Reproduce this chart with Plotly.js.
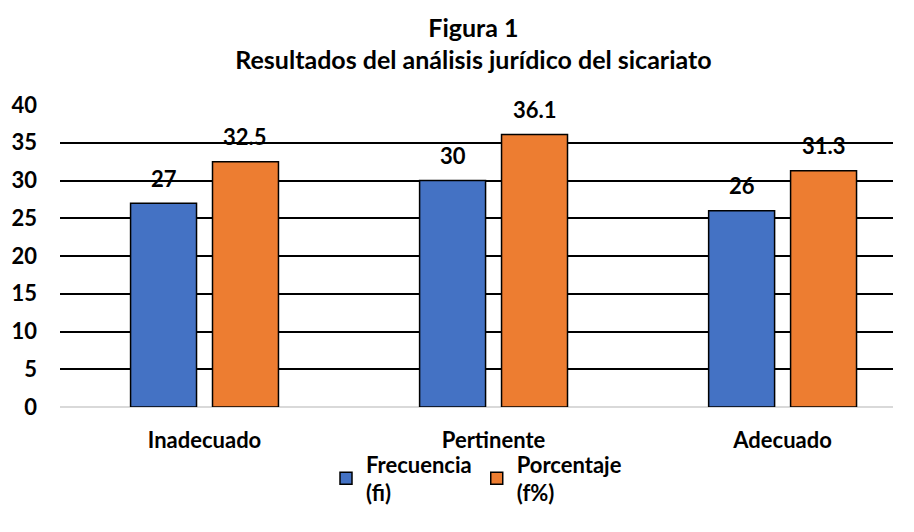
<!DOCTYPE html>
<html>
<head>
<meta charset="utf-8">
<script src="https://cdn.plot.ly/plotly-3.0.1.min.js"></script>
<style>html,body{margin:0;padding:0;background:#fff;}#chart{width:914px;height:532px;}</style>
</head>
<body>
<div id="chart"></div>
<script>
const categories = ["Inadecuado", "Pertinente", "Adecuado"];
const frecuencia = [27, 30, 26];
const porcentaje = [32.5, 36.1, 31.3];
const seriesNames = ["Frecuencia<br>(fi)", "Porcentaje<br>(f%)"];
const yTicks = [0, 5, 10, 15, 20, 25, 30, 35, 40];

const FONT = "Lato, Carlito, Calibri, sans-serif";
const BARGAP = 0.433, GROUPGAP = 0.195;
const slot = (1 - BARGAP) / 2;

const traces = [
  {
    type: "bar", name: seriesNames[0], x: categories, y: frecuencia,
    marker: {color: "#4472C4", line: {color: "#000", width: 1.5}}
  },
  {
    type: "bar", name: seriesNames[1], x: categories, y: porcentaje,
    marker: {color: "#ED7D31", line: {color: "#000", width: 1.5}}
  }
];

const labelFont = {family: FONT, size: 22, color: "#000", weight: "bold"};
const annotations = [];
[frecuencia, porcentaje].forEach((series, s) => {
  series.forEach((v, i) => {
    annotations.push({
      x: i + (s === 0 ? -slot / 2 : slot / 2), y: v, xref: "x", yref: "y",
      text: String(v), showarrow: false, yanchor: "middle", yshift: 25,
      font: labelFont
    });
  });
});

const layout = {
  width: 914, height: 532,
  paper_bgcolor: "#fff", plot_bgcolor: "#fff",
  font: {family: FONT, size: 22, color: "#000", weight: "bold"},
  title: {
    text: "Figura 1<br>Resultados del análisis jurídico del sicariato",
    font: {family: FONT, size: 25, color: "#000", weight: "bold"},
    x: 0.518, xref: "container", xanchor: "center",
    y: 0.931, yref: "container", yanchor: "middle"
  },
  margin: {l: 60, r: 21, t: 105, b: 125},
  barmode: "group", bargap: BARGAP, bargroupgap: GROUPGAP,
  xaxis: {
    range: [-0.5, 2.382],
    showline: false, ticks: "", showgrid: false, ticklabelstandoff: 18,
    tickfont: {family: FONT, size: 22, color: "#000", weight: "bold"}
  },
  yaxis: {
    range: [0, 40], tickvals: yTicks, ticktext: yTicks.map(String),
    showgrid: true, gridcolor: "#000", gridwidth: 2,
    zeroline: true, zerolinecolor: "#d9d9d9", zerolinewidth: 2,
    showline: false, ticks: "", ticklabelstandoff: 22,
    tickfont: {family: FONT, size: 22, color: "#000", weight: "bold"}
  },
  annotations: annotations,
  showlegend: true,
  legend: {
    orientation: "h", x: 0.5, xanchor: "center",
    y: 0.167, yref: "container", yanchor: "top",
    bgcolor: "rgba(0,0,0,0)",
    font: {family: FONT, size: 22, color: "#000", weight: "bold"},
    itemwidth: 30, tracegroupgap: 10
  }
};

Plotly.newPlot("chart", traces, layout, {displayModeBar: false, staticPlot: true});
</script>
</body>
</html>
